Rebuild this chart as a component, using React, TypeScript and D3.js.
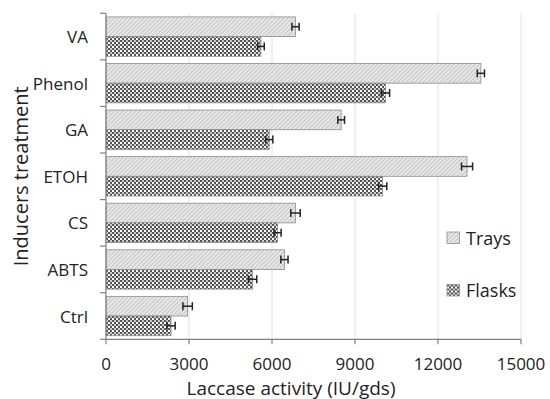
import React from "react";
import * as d3 from "d3";

const categories = ["VA", "Phenol", "GA", "ETOH", "CS", "ABTS", "Ctrl"];
const series = ["Trays", "Flasks"];
const traysValues = [6850, 13550, 8500, 13050, 6850, 6450, 2950];
const traysErrors = [130, 130, 120, 200, 170, 130, 170];
const flasksValues = [5600, 10100, 5900, 10000, 6200, 5300, 2350];
const flasksErrors = [120, 150, 130, 150, 130, 150, 150];
const xTicks = [0, 3000, 6000, 9000, 12000, 15000];

const W = 550;
const H = 399;
const margin = { left: 106, right: 29, top: 13.3, bottom: 59.7 };
const font = "'Open Sans', 'Liberation Sans', sans-serif";

export default function App() {
  const x = d3.scaleLinear().domain([0, 15000]).range([margin.left, W - margin.right]);
  const y = d3
    .scaleBand<string>()
    .domain(categories)
    .range([margin.top, H - margin.bottom])
    .paddingInner(0.155)
    .paddingOuter(0.0775);
  const sub = d3.scaleBand<string>().domain(series).range([0, y.bandwidth()]);
  const step = y.step();
  const y0 = margin.top;
  const y1 = H - margin.bottom;

  const rows = categories.map((c, i) => ({
    c,
    bars: [
      { s: "Trays", v: traysValues[i], e: traysErrors[i], fill: "url(#hatch)" },
      { s: "Flasks", v: flasksValues[i], e: flasksErrors[i], fill: "url(#checker)" },
    ],
  }));

  return (
    <svg
      width={W}
      height={H}
      style={{ position: "absolute", left: 0, top: 0, background: "#fff" }}
    >
      <defs>
        <pattern id="hatch" width="3" height="3" patternUnits="userSpaceOnUse" patternTransform="rotate(45)">
          <rect width="3" height="3" fill="#e8e8e8" />
          <line x1="0" y1="0" x2="0" y2="3" stroke="#a0a0a0" strokeWidth="1" />
        </pattern>
        <pattern id="checker" width="4" height="4" patternUnits="userSpaceOnUse">
          <rect width="4" height="4" fill="#ffffff" />
          <rect x="0" y="0" width="2" height="2" fill="#555555" />
          <rect x="2" y="2" width="2" height="2" fill="#555555" />
          <rect x="2" y="0" width="2" height="2" fill="#9a9a9a" opacity="0.5" />
        </pattern>
      </defs>

      {/* vertical gridlines */}
      {xTicks.slice(1).map((t) => (
        <line key={t} x1={x(t)} x2={x(t)} y1={y0} y2={y1} stroke="#e0e0e0" strokeWidth={1} />
      ))}

      {/* bars with error bars */}
      {rows.map((r) =>
        r.bars.map((b) => {
          const by = (y(r.c) ?? 0) + (sub(b.s) ?? 0);
          const bh = sub.bandwidth();
          const cy = by + bh / 2;
          return (
            <g key={r.c + b.s}>
              <rect
                x={x(0)}
                y={by}
                width={x(b.v) - x(0)}
                height={bh}
                fill={b.fill}
                stroke="#8c8c8c"
                strokeWidth={0.8}
              />
              <line x1={x(b.v - b.e)} x2={x(b.v + b.e)} y1={cy} y2={cy} stroke="#222" strokeWidth={1.5} />
              <line x1={x(b.v - b.e)} x2={x(b.v - b.e)} y1={cy - 4} y2={cy + 4} stroke="#222" strokeWidth={1.5} />
              <line x1={x(b.v + b.e)} x2={x(b.v + b.e)} y1={cy - 4} y2={cy + 4} stroke="#222" strokeWidth={1.5} />
            </g>
          );
        })
      )}

      {/* axes */}
      <line x1={x(0)} x2={x(0)} y1={y0} y2={y1} stroke="#808080" strokeWidth={1.2} />
      <line x1={x(0)} x2={x(15000)} y1={y1} y2={y1} stroke="#808080" strokeWidth={1.2} />
      {categories.map((c, i) => (
        <line key={"yt" + c} x1={x(0) - 6} x2={x(0)} y1={y0 + i * step} y2={y0 + i * step} stroke="#808080" strokeWidth={1.2} />
      ))}
      <line x1={x(0) - 6} x2={x(0)} y1={y1} y2={y1} stroke="#808080" strokeWidth={1.2} />
      {xTicks.map((t) => (
        <line key={"xt" + t} x1={x(t)} x2={x(t)} y1={y1} y2={y1 + 5} stroke="#808080" strokeWidth={1.2} />
      ))}

      {/* category labels */}
      {categories.map((c) => (
        <text
          key={"yl" + c}
          x={88}
          y={(y(c) ?? 0) + y.bandwidth() / 2}
          textAnchor="end"
          dominantBaseline="central"
          fontFamily={font}
          fontSize={17}
          fill="#222"
        >
          {c}
        </text>
      ))}

      {/* tick labels */}
      {xTicks.map((t) => (
        <text
          key={"xl" + t}
          x={x(t)}
          y={370}
          textAnchor="middle"
          fontFamily={font}
          fontSize={17}
          fill="#222"
        >
          {t}
        </text>
      ))}

      {/* axis titles */}
      <text
        x={291}
        y={394.5}
        textAnchor="middle"
        fontFamily={font}
        fontSize={19}
        fill="#222"
      >
        Laccase activity (IU/gds)
      </text>
      <text
        transform={`translate(28, ${(y0 + y1) / 2}) rotate(-90)`}
        textAnchor="middle"
        fontFamily={font}
        fontSize={20}
        fill="#222"
      >
        Inducers treatment
      </text>

      {/* legend */}
      {series.map((s, i) => (
        <g key={"lg" + s} transform={`translate(447, ${232 + i * 52.5})`}>
          <rect width={12.5} height={11.5} fill={i === 0 ? "url(#hatch)" : "url(#checker)"} stroke="#8c8c8c" strokeWidth={0.8} />
          <text x={19} y={12.5} fontFamily={font} fontSize={18} fill="#222">
            {s}
          </text>
        </g>
      ))}
    </svg>
  );
}
